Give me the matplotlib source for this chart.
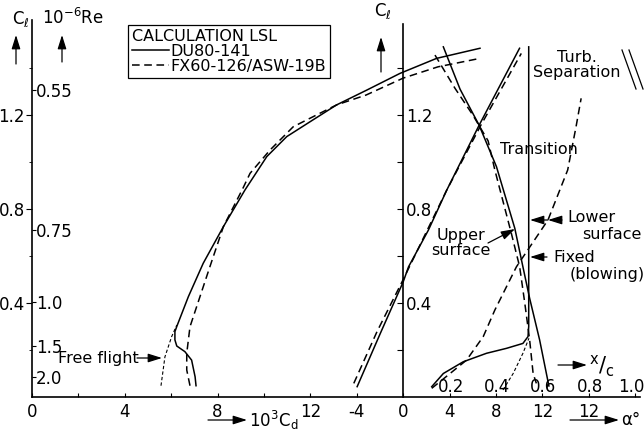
import matplotlib
matplotlib.use('Agg')
import matplotlib.pyplot as plt
from matplotlib import font_manager
from matplotlib.lines import Line2D
from matplotlib.patches import FancyArrowPatch

# narrow sans for the drawing-office lettering, DejaVu as fallback
names = {f.name for f in font_manager.fontManager.ttflist}
FONT = 'Liberation Sans Narrow' if 'Liberation Sans Narrow' in names else 'DejaVu Sans'
plt.rcParams['font.family'] = [FONT, 'DejaVu Sans']
plt.rcParams['mathtext.fontset'] = 'custom'
plt.rcParams['mathtext.rm'] = FONT
plt.rcParams['mathtext.it'] = FONT
plt.rcParams['font.size'] = 12

# --- polar: Cl vs 10^3 Cd ---
du_polar_cd = [7.07, 7.03, 6.88, 6.59, 6.24, 6.16, 6.16, 6.24, 6.74, 7.38, 8.25, 9.18,
               10.12, 10.98, 11.98, 13.13, 14.43, 15.86, 17.44, 19.31]
du_polar_cl = [0.048, 0.086, 0.157, 0.193, 0.217, 0.243, 0.278, 0.30, 0.427, 0.569, 0.725, 0.881,
               1.023, 1.108, 1.171, 1.243, 1.306, 1.377, 1.441, 1.484]
fx_polar_cd = [6.81, 6.67, 6.67, 6.81, 7.24, 7.67, 8.25, 9.10, 9.40, 10.26, 11.26,
               11.98, 13.13, 14.4, 16.0, 17.5, 19.31]
fx_polar_cl = [0.048, 0.115, 0.186, 0.299, 0.427, 0.555, 0.725, 0.89, 0.952, 1.051, 1.15,
               1.186, 1.243, 1.285, 1.357, 1.405, 1.441]
free_flight_cd = [5.56, 5.73, 6.02, 6.24]
free_flight_cl = [0.048, 0.171, 0.257, 0.306]

# Reynolds number scale along the left axis
re_labels = ['0.55', '0.75', '1.0', '1.5', '2.0']
re_at_cl = [1.306, 0.711, 0.404, 0.217, 0.085]

# --- lift curve: Cl vs alpha ---
du_lift_alpha = [-3.97, -1.97, 0.0, 0.46, 2.17, 3.75, 6.55, 10.03]
du_lift_cl = [0.044, 0.271, 0.49, 0.554, 0.71, 0.88, 1.157, 1.484]
fx_lift_alpha = [-4.26, -2.26, 0.0, 3.75, 6.7, 10.18]
fx_lift_cl = [0.058, 0.278, 0.50, 0.88, 1.157, 1.462]

# --- transition location x/c vs Cl ---
du_upper_xc = [0.173, 0.245, 0.327, 0.402, 0.481, 0.516, 0.545, 0.588, 0.628]
du_upper_cl = [1.49, 1.31, 1.157, 0.98, 0.718, 0.554, 0.42, 0.243, 0.047]
fx_upper_xc = [0.137, 0.223, 0.30, 0.366, 0.395, 0.466, 0.502, 0.524, 0.545, 0.56, 0.574]
fx_upper_cl = [1.455, 1.314, 1.20, 1.09, 0.966, 0.697, 0.554, 0.40, 0.243, 0.10, 0.058]
du_lower_xc = [0.123, 0.173, 0.259, 0.359, 0.445, 0.516, 0.538, 0.541, 0.541]
du_lower_cl = [0.044, 0.10, 0.15, 0.186, 0.207, 0.228, 0.257, 0.30, 1.49]
fx_lower_xc = [0.123, 0.202, 0.273, 0.345, 0.395, 0.488, 0.624, 0.709, 0.745, 0.767]
fx_lower_cl = [0.037, 0.10, 0.157, 0.257, 0.37, 0.554, 0.753, 0.966, 1.15, 1.271]
ff_lower_xc = [0.43, 0.474, 0.516, 0.542]
ff_lower_cl = [0.03, 0.10, 0.186, 0.25]

cd_ticks = [0, 4, 8, 12]
alpha_ticks = [-4, 0, 4, 8, 12, 16]
alpha_labels = ['-4', '0', '4', '8', '12', '12']
xc_ticks = [0.2, 0.4, 0.6, 0.8, 1.0]
cl_ticks = [0.4, 0.8, 1.2]

W, H = 644, 433


def fxy(x, y):
    return x / W, 1 - y / H


fig = plt.figure(figsize=(W / 100, H / 100), dpi=100)
ax = fig.add_axes([32 / W, 1 - 397 / H, 608 / W, 389 / H])
PX_CD = 23.2          # pixels per unit of 10^3 Cd
PX_CL = 235.0         # pixels per unit of Cl
CD_ALPHA0 = 16.0      # alpha = 0 sits at this Cd position
ax.set_xlim(0, 608 / PX_CD)
ax.set_ylim(0, 389 / PX_CL)

# alpha and x/c scales share the same strip
ax_a = ax.twiny()
xmin, xmax = ax.get_xlim()
ax_a.set_xlim(2 * (xmin - CD_ALPHA0), 2 * (xmax - CD_ALPHA0))
ax_x = ax.twiny()
ax_x.set_xlim(ax_a.get_xlim()[0] / 20, ax_a.get_xlim()[1] / 20)

LW = 1.1
DASH = (0, (5, 3))

for a in (ax, ax_a, ax_x):
    for s in a.spines.values():
        s.set_visible(False)

# bottom axis
ax.spines['bottom'].set_visible(True)
ax.spines['bottom'].set_linewidth(1.2)
ax.set_xticks(cd_ticks)
ax.set_xticks(range(0, 27, 2), minor=True)
ax.tick_params(axis='x', which='both', direction='in', length=3, width=0.8, pad=4, labelsize=12)
ax_a.xaxis.set_ticks_position('bottom')
ax_a.xaxis.set_label_position('bottom')
ax_a.set_xticks(alpha_ticks, alpha_labels)
ax_a.tick_params(axis='x', length=0, pad=4, labelsize=12)
ax_x.set_xticks([])
ax_x.set_yticks([])

# left Cl axis
ax.spines['left'].set_visible(True)
ax.spines['left'].set_bounds(0, (397 - 20) / PX_CL)
ax.spines['left'].set_linewidth(1.2)
ax.set_yticks(cl_ticks, [f'{v:.1f}' for v in cl_ticks])
ax.set_yticks([0.2, 0.6, 1.0, 1.4], minor=True)
ax.tick_params(axis='y', which='major', direction='out', length=4, width=0.8, pad=1, labelsize=12)
ax.tick_params(axis='y', which='minor', direction='out', length=2, width=0.6)

# Reynolds number labels on the right of the left axis
ax_re = ax.twinx()
ax_re.set_ylim(ax.get_ylim())
for s in ax_re.spines.values():
    s.set_visible(False)
ax_re.spines['right'].set_position(('axes', 0))
ax_re.set_yticks(re_at_cl, re_labels)
ax_re.tick_params(axis='y', direction='out', length=3, width=0.8, pad=0, labelsize=12)

# Cl axis at alpha = 0
ax_c2 = ax.twinx()
ax_c2.set_ylim(ax.get_ylim())
for s in ax_c2.spines.values():
    s.set_visible(False)
ax_c2.spines['right'].set_visible(True)
ax_c2.spines['right'].set_position(('data', CD_ALPHA0))
ax_c2.spines['right'].set_bounds(0, (397 - 24) / PX_CL)
ax_c2.spines['right'].set_linewidth(1.2)
ax_c2.set_yticks(cl_ticks, [f'{v:.1f}' for v in cl_ticks])
ax_c2.set_yticks([0.2, 0.6, 1.0, 1.4], minor=True)
ax_c2.tick_params(axis='y', which='both', direction='in', length=4, width=0.8, pad=2, labelsize=12)

# polars
h_du, = ax.plot(du_polar_cd, du_polar_cl, color='k', lw=LW, label='DU80-141')
h_fx, = ax.plot(fx_polar_cd, fx_polar_cl, color='k', lw=LW, ls=DASH, label='FX60-126/ASW-19B')
ax.plot(free_flight_cd, free_flight_cl, color='k', lw=0.8, ls=(0, (3, 2)))

# lift curves
ax_a.plot(du_lift_alpha, du_lift_cl, color='k', lw=LW)
ax_a.plot(fx_lift_alpha, fx_lift_cl, color='k', lw=LW, ls=DASH)

# transition positions
ax_x.plot(du_upper_xc, du_upper_cl, color='k', lw=LW)
ax_x.plot(fx_upper_xc, fx_upper_cl, color='k', lw=LW, ls=DASH)
ax_x.plot(du_lower_xc, du_lower_cl, color='k', lw=LW)
ax_x.plot(fx_lower_xc, fx_lower_cl, color='k', lw=LW, ls=DASH)
ax_x.plot(ff_lower_xc, ff_lower_cl, color='k', lw=0.8, ls=(0, (3, 2)))
for v in xc_ticks:
    # last label pulled in so it stays on the sheet
    shift = -4 if v == xc_ticks[-1] else 1
    ax_x.annotate(f'{v:.1f}', (v, (397 - 387) / PX_CL), xytext=(shift, 0),
                  textcoords='offset pixels', ha='center', va='center', fontsize=12)

leg = ax.legend(handles=[h_du, h_fx], title='CALCULATION LSL', loc='upper left',
                bbox_to_anchor=fxy(128, 25), bbox_transform=fig.transFigure,
                fancybox=False, edgecolor='k', framealpha=1, borderaxespad=0,
                handlelength=2.3, handletextpad=0.1, borderpad=0.25, labelspacing=0.0,
                alignment='left', fontsize=11.5, title_fontsize=11.5)
leg.get_frame().set_linewidth(0.9)

arrow = dict(arrowstyle='-|>,head_length=0.7,head_width=0.22', color='k', lw=0.9,
             shrinkA=0, shrinkB=0)


def arr(x0, y0, x1, y1):
    fig.add_artist(FancyArrowPatch(fxy(x0, y0), fxy(x1, y1), transform=fig.transFigure,
                                   mutation_scale=12, **arrow))


def txt(x, y, s, **kw):
    kw.setdefault('va', 'center')
    kw.setdefault('ha', 'left')
    fig.text(*fxy(x, y), s, fontsize=kw.pop('fontsize', 11.5), **kw)


# axis titles
txt(12, 19, r'C$_\ell$', fontsize=12)
arr(16, 64, 16, 35)
txt(42, 18, r'10$^{-6}$Re', fontsize=12)
arr(62, 62, 62, 35)
txt(374, 11, r'C$_\ell$', fontsize=12)
arr(381, 72, 381, 37)
arr(208, 420, 247, 420)
txt(249, 420, r'10$^3$C$_d$', fontsize=12)
arr(570, 420, 619, 420)
txt(621, 420, 'α°', fontsize=12)
arr(558, 365, 587, 365)
txt(589, 366, r'$^x/_c$', fontsize=15)

# annotations
txt(58, 358, 'Free flight')
arr(137, 358, 162, 358)
txt(500, 150, 'Transition')
txt(577, 65, 'Turb.\nSeparation', ha='center', multialignment='center', linespacing=1.0)
for dx in (0, 7):
    fig.add_artist(Line2D([(622 + dx) / W, (636 + dx) / W], [1 - 50 / H, 1 - 89 / H],
                          transform=fig.transFigure, color='k', lw=0.9))
txt(461, 243, 'Upper\nsurface', ha='center', multialignment='center', linespacing=1.0)
arr(488, 243, 515, 229)
txt(567, 218, 'Lower')
txt(642, 234, 'surface', ha='right')
arr(562, 220, 548, 220)
arr(548, 220, 530, 220)
txt(553, 258, 'Fixed')
txt(570, 274, '(blowing)')
arr(547, 257, 530, 257)

fig.savefig('out.png', dpi=100)
